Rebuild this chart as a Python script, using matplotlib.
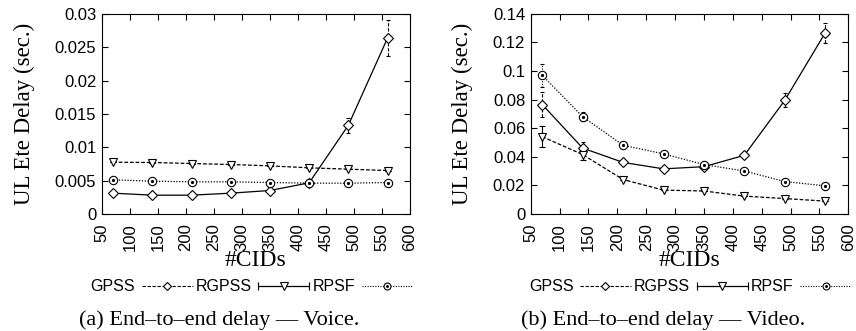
import numpy as np
import matplotlib.pyplot as plt
from matplotlib.lines import Line2D
from matplotlib.legend_handler import HandlerLine2D
from matplotlib.ticker import FormatStrFormatter

# number of CIDs on the x axis
cids = [70, 140, 210, 280, 350, 420, 490, 560]

# voice end-to-end delay (sec.)
voice_gpss = [0.0031, 0.0028, 0.0028, 0.0031, 0.0035, 0.00465, 0.0133, 0.0264]
voice_gpss_err = [0.0, 0.0, 0.0, 0.0, 0.0, 0.0, 0.0011, 0.0027]
voice_rgpss = [0.00775, 0.0077, 0.00755, 0.0074, 0.0072, 0.0069, 0.0067, 0.0065]
voice_rgpss_err = [0.0, 0.0, 0.0, 0.0, 0.0, 0.0, 0.0, 0.0]
voice_rpsf = [0.0051, 0.0049, 0.0048, 0.0048, 0.0047, 0.0046, 0.0046, 0.0047]
voice_rpsf_err = [0.0, 0.0, 0.0, 0.0, 0.0, 0.0, 0.0, 0.0]

# video end-to-end delay (sec.)
video_gpss = [0.0765, 0.046, 0.036, 0.0315, 0.033, 0.041, 0.0795, 0.1267]
video_gpss_err = [0.009, 0.004, 0.0, 0.0, 0.0, 0.0, 0.005, 0.007]
video_rgpss = [0.054, 0.0415, 0.024, 0.0166, 0.016, 0.0124, 0.0107, 0.0089]
video_rgpss_err = [0.0075, 0.004, 0.0, 0.0, 0.0, 0.0, 0.0, 0.0]
video_rpsf = [0.097, 0.068, 0.048, 0.042, 0.0345, 0.030, 0.0226, 0.0196]
video_rpsf_err = [0.008, 0.003, 0.0, 0.0, 0.0, 0.0, 0.0, 0.0]

legend_labels = ["GPSS", "RGPSS", "RPSF"]
captions = ["(a) End\u2013to\u2013end delay \u2014 Voice.",
            "(b) End\u2013to\u2013end delay \u2014 Video."]

SANS = "Liberation Sans"
SERIF = "Liberation Serif"
DASH = (0, (3, 1.5))
DOT = (0, (1, 1.3))


def draw_panel(ax, gpss, gpss_err, rgpss, rgpss_err, rpsf, rpsf_err, ymax, ystep):
    # diamonds: solid line, dashed error bars
    eb = ax.errorbar(cids, gpss, yerr=gpss_err, color="k", lw=0.9, capsize=1.5,
                     elinewidth=0.8, capthick=0.8, marker="D", ms=5,
                     mfc="white", mew=0.8, zorder=3)
    eb[2][0].set_linestyle(DASH)
    # triangles: dashed line, solid error bars
    ax.errorbar(cids, rgpss, yerr=rgpss_err, color="k", lw=0.9, ls=DASH,
                capsize=2, elinewidth=0.8, capthick=0.8, marker="v",
                ms=5.5, mfc="white", mew=0.8, zorder=3)
    # circles with a centre dot: dotted line and error bars
    eb = ax.errorbar(cids, rpsf, yerr=rpsf_err, color="k", lw=0.9, ls=DOT,
                     capsize=1.5, elinewidth=0.8, capthick=0.8, marker="o",
                     ms=6, mfc="white", mew=0.8, zorder=3)
    eb[2][0].set_linestyle(DOT)
    ax.plot(cids, rpsf, ls="none", marker="o", ms=1.3, color="k", zorder=4)

    ax.set_xlim(50, 600)
    ax.set_ylim(0, ymax)
    ax.set_xticks(np.arange(50, 601, 50))
    ax.set_yticks(np.arange(0, ymax + ystep / 2, ystep))
    ax.yaxis.set_major_formatter(FormatStrFormatter("%g"))
    ax.tick_params(direction="in", top=True, right=True, length=4, width=0.8,
                   labelsize=12)
    ax.tick_params(axis="x", pad=7)
    ax.tick_params(axis="y", pad=4)
    for lab in ax.get_xticklabels():
        lab.set_rotation(90)
    for lab in ax.get_xticklabels() + ax.get_yticklabels():
        lab.set_fontfamily(SANS)
    for sp in ax.spines.values():
        sp.set_linewidth(0.8)
    ax.set_xlabel("#CIDs", fontfamily=SERIF, fontsize=17, labelpad=-1)
    ax.set_ylabel("UL Ete Delay (sec.)", fontfamily=SERIF, fontsize=16.5,
                  labelpad=14)


def legend_handles():
    gpss_h = Line2D([], [], color="k", lw=0.8, ls=DASH, marker="D", ms=4,
                    mfc="white", mew=0.8)
    rgpss_line = Line2D([], [], color="k", lw=0.9, marker="v", ms=5.5,
                        mfc="white", mew=0.8)
    rgpss_caps = Line2D([], [], color="k", ls="none", marker="|", ms=6, mew=0.8)
    rpsf_ring = Line2D([], [], color="k", lw=0.8, ls=DOT, marker="o", ms=5,
                       mfc="white", mew=0.8)
    rpsf_dot = Line2D([], [], color="k", ls="none", marker="o", ms=1.1)
    handles = [gpss_h, (rgpss_line, rgpss_caps), (rpsf_ring, rpsf_dot)]
    hmap = {rgpss_caps: HandlerLine2D(numpoints=2, marker_pad=0)}
    return handles, hmap


fig = plt.figure(figsize=(8.56, 3.31), dpi=100)
ax1 = fig.add_axes([0.119, 0.354, 0.360, 0.604])
ax2 = fig.add_axes([0.620, 0.354, 0.371, 0.604])

draw_panel(ax1, voice_gpss, voice_gpss_err, voice_rgpss, voice_rgpss_err,
           voice_rpsf, voice_rpsf_err, 0.03, 0.005)
draw_panel(ax2, video_gpss, video_gpss_err, video_rgpss, video_rgpss_err,
           video_rpsf, video_rpsf_err, 0.14, 0.02)

for cx in [0.294, 0.806]:
    handles, hmap = legend_handles()
    fig.legend(handles, legend_labels, handler_map=hmap, ncol=3,
               markerfirst=False, frameon=False, loc="center",
               bbox_to_anchor=(cx, 0.133), handlelength=3.2,
               handletextpad=0.4, columnspacing=0.2,
               prop={"family": SANS, "size": 11.5})

fig.text(0.256, 0.033, captions[0], ha="center", va="center",
         fontfamily=SERIF, fontsize=16)
fig.text(0.775, 0.033, captions[1], ha="center", va="center",
         fontfamily=SERIF, fontsize=16)

fig.savefig("out.png", dpi=100)
